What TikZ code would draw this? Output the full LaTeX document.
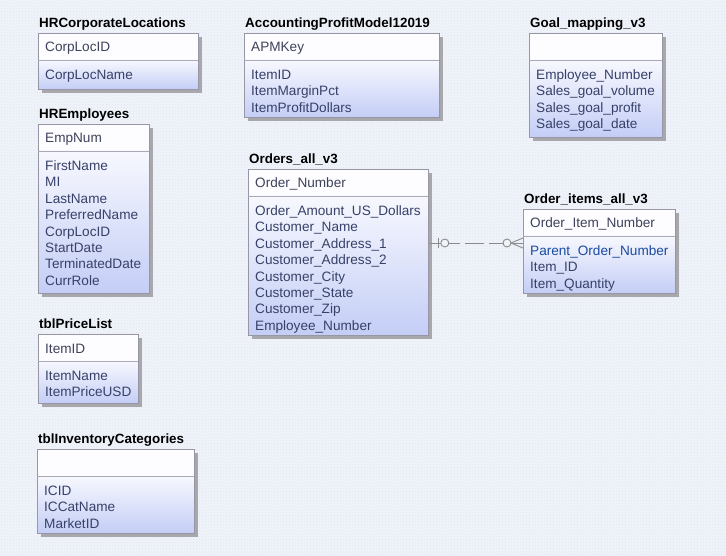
\documentclass[tikz,border=0pt]{standalone}
\usepackage{fontspec}
\setmainfont{Liberation Sans}
\usetikzlibrary{patterns}
\definecolor{bg}{RGB}{240,244,250}
\definecolor{bgdots}{RGB}{222,229,241}
\definecolor{boxline}{RGB}{150,150,165}
\definecolor{sepline}{RGB}{170,170,185}
\definecolor{shadowc}{RGB}{168,168,172}
\definecolor{fldtop}{RGB}{247,248,254}
\definecolor{fldbot}{RGB}{196,206,246}
\definecolor{hdr}{RGB}{253,253,255}
\definecolor{fldtxt}{RGB}{55,65,105}
\definecolor{keytxt}{RGB}{62,66,90}
\definecolor{fktxt}{RGB}{25,75,160}
\definecolor{relc}{RGB}{140,140,140}
\tikzset{
 tbltitle/.style={anchor=base west, inner sep=0pt, font=\fontsize{13.4}{16}\selectfont\bfseries, text=black},
 fld/.style={anchor=base west, inner sep=0pt, font=\fontsize{13.6}{16}\selectfont, text=fldtxt},
 keyfld/.style={fld, text=keytxt},
 tblbox/.style={draw=boxline, line width=0.8pt, anchor=north west, inner sep=0pt},
 rel/.style={draw=relc, line width=0.9pt},
 relmark/.style={draw=relc, fill=bg, line width=0.9pt},
}
\newcommand{\erbox}[8]{%
 \pgfmathsetmacro{\bw}{#4-#2}%
 \pgfmathsetmacro{\bh}{#5-#3}%
 \pgfmathsetmacro{\bs}{#3+27}%
 \fill[shadowc] (#2+4,#3+4) rectangle (#4+4,#5+4);
 \fill[hdr] (#2,#3) rectangle (#4,\bs);
 \shade[top color=fldtop, bottom color=fldbot] (#2,\bs) rectangle (#4,#5);
 \node[tblbox, minimum width=\bw pt, minimum height=\bh pt] (#1) at (#2,#3) {};
 \draw[sepline, line width=0.8pt] (#2,\bs) -- (#4,\bs);
 \node[tbltitle] (#1-title) at (#2+1,#3-5.5) {#6};
 \node[keyfld] (#1-key) at (#2+7,#3+19) {#7};
 \foreach \f [count=\i] in {#8} {\node[fld] (#1-f\i) at (#2+7,\bs+19.5+16.4*\i-16.4) {\f};}
}
\begin{document}
\begin{tikzpicture}[x=1pt,y=-1pt]
\fill[bg] (0,0) rectangle (726,556);
\fill[pattern=crosshatch dots, pattern color=bgdots] (0,0) rectangle (726,556);
\useasboundingbox (0,0) rectangle (726,556);
\erbox{hrcl}{38}{33}{198}{89}{HRCorporateLocations}{CorpLocID}{CorpLocName}
\erbox{hremp}{38}{124}{149}{293}{HREmployees}{EmpNum}{FirstName,MI,LastName,PreferredName,CorpLocID,StartDate,TerminatedDate,CurrRole}
\erbox{apm}{244}{33}{439}{117}{AccountingProfitModel12019}{APMKey}{ItemID,ItemMarginPct,ItemProfitDollars}
\erbox{goal}{529}{33}{662}{137}{Goal\_mapping\_v3}{}{Employee\_Number,Sales\_goal\_volume,Sales\_goal\_profit,Sales\_goal\_date}
\erbox{ord}{248}{169}{428}{335}{Orders\_all\_v3}{Order\_Number}{Order\_Amount\_US\_Dollars,Customer\_Name,Customer\_Address\_1,Customer\_Address\_2,Customer\_City,Customer\_State,Customer\_Zip,Employee\_Number}
\erbox{oit}{523}{209}{675}{293}{Order\_items\_all\_v3}{Order\_Item\_Number}{{\textcolor{fktxt}{Parent\_Order\_Number}},Item\_ID,Item\_Quantity}
\erbox{price}{38}{334}{138}{403}{tblPriceList}{ItemID}{ItemName,ItemPriceUSD}
\erbox{inv}{37}{449}{194}{533}{tblInventoryCategories}{}{ICID,ICCatName,MarketID}
% relationship
\coordinate (relY) at (0,243);
\coordinate (rA) at (ord.east |- relY);
\coordinate (rB) at (oit.west |- relY);
\draw[rel] (rA) -- ([xshift=20pt]rA);
\draw[rel, dash pattern=on 11pt off 5pt on 19pt off 5pt on 30pt] ([xshift=20pt]rA) -- ([xshift=-16pt]rB);
\draw[rel] ([xshift=-16pt]rB) -- (rB);
\draw[rel] ([xshift=10pt,yshift=-5pt]rA) -- ([xshift=10pt,yshift=5pt]rA);
\draw[relmark] ([xshift=16pt]rA) circle[radius=4pt];
\draw[relmark] ([xshift=-16pt]rB) circle[radius=4pt];
\draw[rel] ([xshift=-12pt]rB) -- ([yshift=-5pt]rB);
\draw[rel] ([xshift=-12pt]rB) -- ([yshift=5pt]rB);
\end{tikzpicture}
\end{document}
